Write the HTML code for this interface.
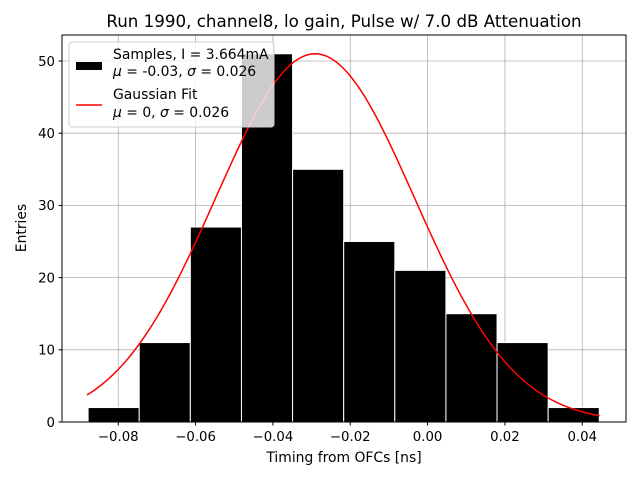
<!DOCTYPE html>
<html><head><meta charset="utf-8"><style>body{margin:0;background:#fff}svg{display:block;font-family:"DejaVu Sans","Liberation Sans",sans-serif}</style></head>
<body>
<svg id="chart" width="640" height="480" viewBox="0 0 640 480" xmlns="http://www.w3.org/2000/svg">
<text x="344" y="27" font-size="16.7" text-anchor="middle">Run 1990, channel8, lo gain, Pulse w/ 7.0 dB Attenuation</text>
<g id="grid"></g><g id="bars"></g><g id="curve"></g><g id="ticks"></g>
<rect x="62" y="35" width="564" height="387" fill="none" stroke="#000" stroke-width="1"/>
<text x="344" y="462" font-size="13.9" text-anchor="middle">Timing from OFCs [ns]</text>
<text transform="translate(26,228) rotate(-90)" font-size="13.9" text-anchor="middle">Entries</text>
<g>
<rect x="69" y="42" width="205" height="85" rx="3" fill="#fff" fill-opacity="0.8" stroke="#ccc"/>
<rect x="76" y="62" width="26" height="8" fill="#000"/>
<text x="113" y="59" font-size="13.9">Samples, I = 3.664mA</text>
<text x="113" y="76" font-size="13.9"><tspan font-style="italic">μ</tspan> = -0.03, <tspan font-style="italic">σ</tspan> = 0.026</text>
<line x1="76" y1="105" x2="102" y2="105" stroke="red" stroke-width="1.5"/>
<text x="113" y="99" font-size="13.9">Gaussian Fit</text>
<text x="113" y="117" font-size="13.9"><tspan font-style="italic">μ</tspan> = 0, <tspan font-style="italic">σ</tspan> = 0.026</text>
</g>
</svg>
<script>
const counts=[2,11,27,51,35,25,21,15,11,2];
const binStart=-0.0878, binWidth=0.01322;
const xTicks=[-0.08,-0.06,-0.04,-0.02,0.00,0.02,0.04];
const xTickLabels=["−0.08","−0.06","−0.04","−0.02","0.00","0.02","0.04"];
const yTicks=[0,10,20,30,40,50];
const fitMean=-0.0291, fitSigma=0.0258, fitAmp=51;
const fitRange=[-0.0881,0.0445];
const NS="http://www.w3.org/2000/svg";
const X=v=>427.6+v*3866.7, Y=v=>422-v*7.22;
function mk(t,a,p){const e=document.createElementNS(NS,t);for(const k in a)e.setAttribute(k,a[k]);p.appendChild(e);return e;}
const grid=document.getElementById('grid'),ticks=document.getElementById('ticks');
xTicks.forEach((v,i)=>{
 const g=mk('line',{x1:X(v),x2:X(v),y1:35,y2:422,stroke:'#b0b0b0','stroke-width':0.8},grid);
 
 mk('line',{x1:X(v),x2:X(v),y1:422,y2:425.5,stroke:'#000'},ticks);
 const t=mk('text',{x:X(v),y:441,'font-size':13.3,'text-anchor':'middle'},ticks);t.textContent=xTickLabels[i];
 
});
yTicks.forEach(v=>{
 const g=mk('line',{x1:62,x2:626,y1:Y(v),y2:Y(v),stroke:'#b0b0b0','stroke-width':0.8},grid);
 
 mk('line',{x1:58.5,x2:62,y1:Y(v),y2:Y(v),stroke:'#000'},ticks);
 const t=mk('text',{x:55,y:Y(v)+4.8,'font-size':13.3,'text-anchor':'end'},ticks);t.textContent=v;
 
});
const bars=document.getElementById('bars');
counts.forEach((c,i)=>{
 const x0=X(binStart+i*binWidth),x1=X(binStart+(i+1)*binWidth);
 const r=mk('rect',{x:x0,y:Y(c),width:x1-x0,height:Y(0)-Y(c),fill:'#000',stroke:'#fff','stroke-width':1},bars);
 
});
let d='';
for(let i=0;i<=200;i++){const v=fitRange[0]+(fitRange[1]-fitRange[0])*i/200;
 const y=fitAmp*Math.exp(-((v-fitMean)**2)/(2*fitSigma*fitSigma));d+=(i?'L':'M')+X(v).toFixed(2)+','+Y(y).toFixed(2);}
const p=mk('path',{d:d,fill:'none',stroke:'red','stroke-width':1.5},document.getElementById('curve'));

</script>
</body></html>
